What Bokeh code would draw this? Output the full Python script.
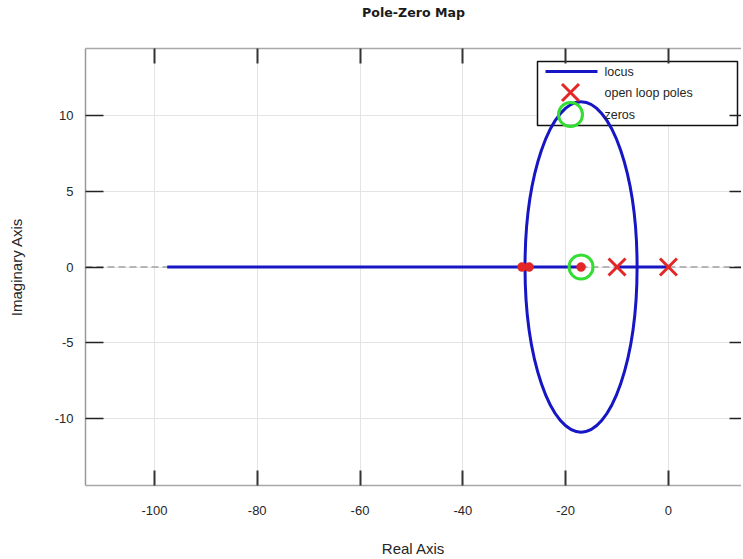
from bokeh.plotting import figure
from bokeh.models import (Range1d, LinearAxis, FixedTicker, Span, BoxAnnotation, Label)
from bokeh.embed import file_html
from bokeh.resources import INLINE

# ---------------- data ----------------
pole_re = [0.0, -10.0]
pole_im = [0.0, 0.0]
zero_re = [-17.0]
zero_im = [0.0]
breakaway_re = [-27.9, -6.1]          # where the complex branch leaves / rejoins the real axis
locus_seg_start = [-97.5, -10.0]      # real-axis locus segments
locus_seg_end = [-17.0, 0.0]
cl_pole_re = [-28.5, -27.1, -17.0]    # red dots
cl_pole_im = [0.0, 0.0, 0.0]
x_ticks = [-100, -80, -60, -40, -20, 0]
y_ticks = [-10, -5, 0, 5, 10]
legend_labels = ["locus", "open loop poles", "zeros"]
title_text = "Pole-Zero Map"

# ---------------- styling / layout ----------------
X0, X1 = -113.4, 14.21
Y0, Y1 = -14.42, 14.42
FW, FH = 656, 437
FL, FT = 85, 48            # frame left / top in page pixels
BLUE = "#1616c4"
RED = "#e32626"
GREEN = "#33dd33"
TXT = "#262626"
FONT = "Liberation Sans"

p = figure(frame_width=FW, frame_height=FH,
           x_range=Range1d(X0, X1), y_range=Range1d(Y0, Y1),
           output_backend="svg", toolbar_location=None,
           min_border_left=FL, min_border_right=0,
           min_border_top=FT, min_border_bottom=72,
           outline_line_color=None, background_fill_color="white")

# bottom axis
xa = p.xaxis[0]
xa.ticker = FixedTicker(ticks=x_ticks)
xa.major_label_overrides = {t: str(t) for t in x_ticks}
xa.axis_label = "Real Axis"
xa.axis_label_text_font = FONT
xa.axis_label_text_font_style = "normal"
xa.axis_label_text_font_size = "15px"
xa.axis_label_text_color = TXT
xa.axis_label_standoff = 22
xa.major_label_text_font = FONT
xa.major_label_text_font_size = "13px"
xa.major_label_text_color = TXT
xa.major_label_standoff = 20
xa.major_tick_in = 15
xa.major_tick_out = 0
xa.minor_tick_line_color = None
xa.major_tick_line_color = "#333333"
xa.major_tick_line_width = 2
xa.axis_line_color = "#a8a8a8"
xa.axis_line_width = 1.5

# left axis
ya = p.yaxis[0]
ya.ticker = FixedTicker(ticks=y_ticks)
ya.major_label_overrides = {t: str(t) for t in y_ticks}
ya.axis_label = "Imaginary Axis"
ya.axis_label_text_font = FONT
ya.axis_label_text_font_style = "normal"
ya.axis_label_text_font_size = "15px"
ya.axis_label_text_color = TXT
ya.axis_label_standoff = 27
ya.major_label_text_font = FONT
ya.major_label_text_font_size = "13px"
ya.major_label_text_color = TXT
ya.major_label_standoff = 12
ya.major_tick_in = 18
ya.major_tick_out = 0
ya.minor_tick_line_color = None
ya.major_tick_line_color = "#222222"
ya.major_tick_line_width = 1.5
ya.axis_line_color = "#9a9a9a"
ya.axis_line_width = 1.5

# top axis (ticks only) carrying the chart title as its label
ta = LinearAxis(ticker=FixedTicker(ticks=x_ticks),
                major_label_overrides={t: "" for t in x_ticks},
                major_label_standoff=0, major_tick_in=15, major_tick_out=0,
                minor_tick_line_color=None, major_tick_line_color="#333333",
                major_tick_line_width=2, axis_line_color="#a8a8a8", axis_line_width=1.5,
                axis_label=title_text, axis_label_standoff=29,
                axis_label_text_font="DejaVu Sans", axis_label_text_font_style="bold",
                axis_label_text_font_size="12.6px", axis_label_text_color="#1a1a1a")
p.add_layout(ta, "above")

# right axis (ticks only, the frame line lies off-screen in the original)
ra = LinearAxis(ticker=FixedTicker(ticks=y_ticks),
                major_label_overrides={t: "" for t in y_ticks},
                major_label_standoff=0, major_tick_in=12, major_tick_out=0,
                minor_tick_line_color=None, major_tick_line_color="#222222",
                major_tick_line_width=1.5, axis_line_color=None)
p.add_layout(ra, "right")

# grid
p.xgrid.ticker = FixedTicker(ticks=x_ticks)
p.ygrid.ticker = FixedTicker(ticks=y_ticks)
for g in (p.xgrid[0], p.ygrid[0]):
    g.grid_line_color = "#e4e4e4"
    g.grid_line_width = 1

# dashed real axis line
p.add_layout(Span(location=0, dimension="width", line_color="#b5b5b5",
                  line_dash="7 4", line_width=2, level="underlay"))


# pixel -> data helpers for the legend placement
def dx(px):
    return X0 + (px - FL) / FW * (X1 - X0)


def dy(py):
    return Y1 - (py - FT) / FH * (Y1 - Y0)


# legend background box (drawn below the locus, like the original)
p.add_layout(BoxAnnotation(left=dx(537), right=dx(737), top=dy(61), bottom=dy(125),
                           fill_color="white", fill_alpha=1.0,
                           line_color="#111111", line_width=1.5, line_alpha=1.0,
                           level="underlay"))

# ---------------- marks ----------------
p.segment(x0=locus_seg_start, y0=[0.0] * len(locus_seg_start),
          x1=locus_seg_end, y1=[0.0] * len(locus_seg_end),
          line_color=BLUE, line_width=3)

cx = (breakaway_re[0] + breakaway_re[1]) / 2.0
rad = (breakaway_re[1] - breakaway_re[0]) / 2.0
p.ellipse(x=[cx], y=[0.0], width=[2 * rad], height=[2 * rad],
          fill_color=None, line_color=BLUE, line_width=3)

p.scatter(x=cl_pole_re, y=cl_pole_im, marker="circle", size=9,
          fill_color=RED, line_color=RED, line_width=0.5)

p.scatter(x=zero_re, y=zero_im, marker="circle", size=24,
          fill_color=None, line_color=GREEN, line_width=3)
p.scatter(x=pole_re, y=pole_im, marker="x", size=24,
          line_color=RED, line_width=3)

# ---------------- legend entries ----------------
ly = [71, 92, 114]
p.segment(x0=[dx(545)], y0=[dy(ly[0])], x1=[dx(597)], y1=[dy(ly[0])],
          line_color=BLUE, line_width=3)
p.scatter(x=[dx(570)], y=[dy(ly[1])], marker="x", size=24, line_color=RED, line_width=3)
p.scatter(x=[dx(570)], y=[dy(ly[2])], marker="circle", size=24,
          fill_color=None, line_color=GREEN, line_width=3)
for lab, yy in zip(legend_labels, ly):
    p.add_layout(Label(x=dx(604), y=dy(yy), text=lab, text_baseline="middle",
                       text_align="left", text_font=FONT, text_font_size="12.5px",
                       text_color=TXT))

open("out.html", "w").write(file_html(p, INLINE))
